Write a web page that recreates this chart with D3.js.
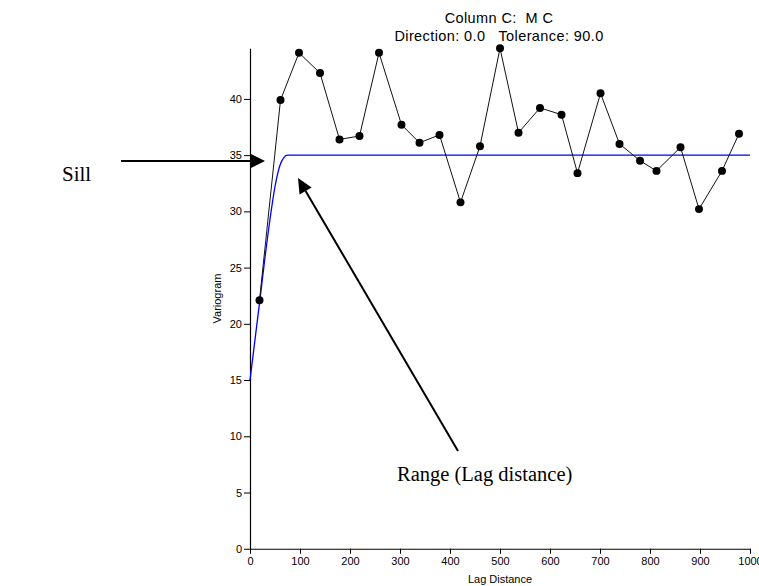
<!DOCTYPE html>
<html>
<head>
<meta charset="utf-8">
<script src="https://cdn.jsdelivr.net/npm/d3@7/dist/d3.min.js"></script>
<style>
  html, body { margin: 0; padding: 0; background: #fff; }
  svg { display: block; }
  .tick text { font-family: Arial, "Liberation Sans", sans-serif; font-size: 11px; fill: #000; }
  .tick line, .domain { stroke: #000; }
</style>
</head>
<body>
<svg id="chart" width="759" height="586"></svg>
<script>
// ---- data ----
const lags = [19, 61, 98, 140, 179, 219, 258, 303, 339, 379, 421, 460, 500, 537, 580, 623, 655, 701, 739, 780, 813, 861, 898, 944, 978];
const variogram = [22.1, 39.9, 44.1, 42.3, 36.4, 36.7, 44.1, 37.7, 36.1, 36.8, 30.8, 35.8, 44.5, 37.0, 39.2, 38.6, 33.4, 40.5, 36.0, 34.5, 33.6, 35.7, 30.2, 33.6, 36.9];
const modelLags = [0, 10, 20, 30, 40, 50, 60, 68, 75, 80, 1000];
const modelValues = [15, 18.6, 22.2, 25.9, 29.3, 32.2, 34.1, 34.8, 35, 35, 35];
const xTicks = [0, 100, 200, 300, 400, 500, 600, 700, 800, 900, 1000];
const yTicks = [0, 5, 10, 15, 20, 25, 30, 35, 40];
const titleLines = ["Column C:  M C", "Direction: 0.0   Tolerance: 90.0"];
const xLabel = "Lag Distance";
const yLabel = "Variogram";
const sillLabel = "Sill";
const rangeLabel = "Range (Lag distance)";

const svg = d3.select("#chart");

const x = d3.scaleLinear().domain([0, 1000]).range([250, 750]);
const y = d3.scaleLinear().domain([0, d3.max(variogram)]).range([548.75, 48.3]);

// axes
svg.append("g")
  .attr("transform", `translate(0,${y(0)})`)
  .call(d3.axisBottom(x).tickValues(xTicks).tickFormat(d3.format("d")).tickSize(5).tickSizeOuter(0))
  .call(g => g.select(".domain").attr("stroke-width", 1.2));

svg.append("g")
  .attr("transform", `translate(${x(0)},0)`)
  .call(d3.axisLeft(y).tickValues(yTicks).tickFormat(d3.format("d")).tickSize(6).tickSizeOuter(0))
  .call(g => g.select(".domain").attr("stroke-width", 1.2))
  .call(g => g.selectAll(".tick text").attr("x", -8));

// axis titles
svg.append("text")
  .attr("x", (x(0) + x(1000)) / 2).attr("y", 583)
  .attr("text-anchor", "middle")
  .style("font-family", "Arial, 'Liberation Sans', sans-serif").style("font-size", "11px")
  .text(xLabel);

svg.append("text")
  .attr("transform", `translate(221,${(y(0) + y.range()[1]) / 2}) rotate(-90)`)
  .attr("text-anchor", "middle")
  .style("font-family", "Arial, 'Liberation Sans', sans-serif").style("font-size", "11px")
  .text(yLabel);

// chart title
svg.append("g").selectAll("text").data(titleLines).join("text")
  .attr("x", 499).attr("y", (d, i) => 23 + i * 18)
  .attr("text-anchor", "middle")
  .style("white-space", "pre")
  .attr("xml:space", "preserve")
  .style("font-family", "Arial, 'Liberation Sans', sans-serif").style("font-size", "14.5px")
  .style("letter-spacing", "0.4px")
  .text(d => d);

// model (blue) curve
const model = modelLags.map((l, i) => [l, modelValues[i]]);
svg.append("path")
  .datum(model)
  .attr("fill", "none").attr("stroke", "#0000ff").attr("stroke-width", 1.3)
  .attr("d", d3.line().x(d => x(d[0])).y(d => y(d[1])).curve(d3.curveMonotoneX));

// experimental variogram
const pts = lags.map((l, i) => [l, variogram[i]]);
svg.append("path")
  .datum(pts)
  .attr("fill", "none").attr("stroke", "#111").attr("stroke-width", 1)
  .attr("d", d3.line().x(d => x(d[0])).y(d => y(d[1])));

svg.append("g").selectAll("path").data(pts).join("path")
  .attr("transform", d => `translate(${x(d[0])},${y(d[1])})`)
  .attr("d", d3.symbol().type(d3.symbolCircle).size(50))
  .attr("fill", "#000");

// annotations
function arrow(x1, y1, x2, y2, len, wid) {
  const a = Math.atan2(y2 - y1, x2 - x1);
  const bx = x2 - len * Math.cos(a), by = y2 - len * Math.sin(a);
  svg.append("line").attr("x1", x1).attr("y1", y1).attr("x2", bx).attr("y2", by)
    .attr("stroke", "#000").attr("stroke-width", 2);
  const px = -Math.sin(a) * wid / 2, py = Math.cos(a) * wid / 2;
  svg.append("path")
    .attr("d", `M${x2},${y2}L${bx + px},${by + py}L${bx - px},${by - py}Z`)
    .attr("fill", "#000");
}
arrow(121, 161, 265, 161, 15, 15);
arrow(458, 451, 298, 178, 15, 14);

svg.append("text").attr("x", 62).attr("y", 181)
  .style("font-family", "'Liberation Serif', 'Times New Roman', serif").style("font-size", "21px")
  .text(sillLabel);

svg.append("text").attr("x", 397).attr("y", 481)
  .style("font-family", "'Liberation Serif', 'Times New Roman', serif").style("font-size", "20.5px")
  .text(rangeLabel);
</script>
</body>
</html>
